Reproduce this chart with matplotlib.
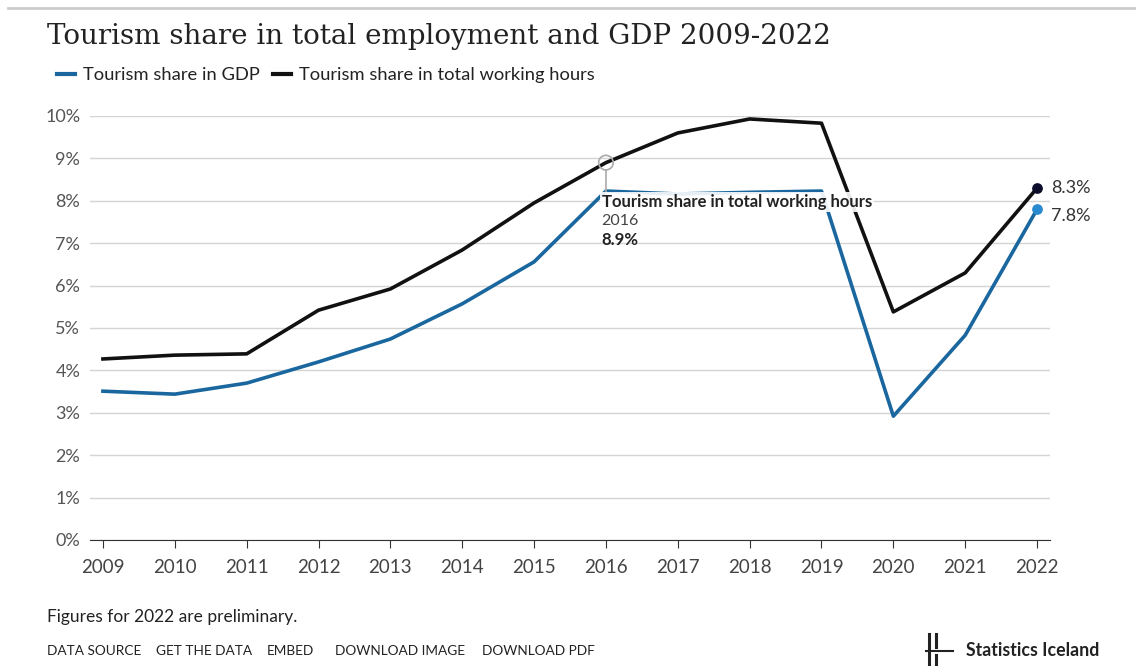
import matplotlib as mpl
import matplotlib.pyplot as plt
from matplotlib.lines import Line2D

mpl.rc('font', family=['Lato', 'DejaVu Sans'], size=11)

years = list(range(2009, 2023))
gdp_share = [3.51, 3.44, 3.70, 4.20, 4.74, 5.57, 6.56, 8.23, 8.16, 8.20, 8.23, 2.92, 4.83, 7.8]
hours_share = [4.27, 4.36, 4.39, 5.42, 5.92, 6.84, 7.95, 8.9, 9.60, 9.93, 9.83, 5.38, 6.30, 8.3]
ytick_vals = list(range(0, 11))
ytick_labels = [f"{v}%" for v in ytick_vals]

blue = '#19679e'
blue_dot = '#2a8ad0'
black = '#111111'

fig = plt.figure(figsize=(11.36, 6.66), dpi=100)
ax = fig.add_axes([90 / 1136, 1 - 540 / 666, 960 / 1136, 424 / 666])

ax.plot(years, gdp_share, color=blue, lw=2.6, clip_on=False, zorder=3)
ax.plot(years, hours_share, color=black, lw=2.6, clip_on=False, zorder=3)
ax.scatter([years[-1]], [gdp_share[-1]], s=45, color=blue_dot, zorder=5, clip_on=False)
ax.scatter([years[-1]], [hours_share[-1]], s=45, color='#0b0b2a', zorder=5, clip_on=False)
ax.annotate(f"{hours_share[-1]}%", (years[-1], hours_share[-1]), xytext=(10, 0),
            textcoords='offset points', va='center', ha='left', fontsize=13, color='#333333')
ax.annotate(f"{gdp_share[-1]}%", (years[-1], gdp_share[-1]), xytext=(10, -5),
            textcoords='offset points', va='center', ha='left', fontsize=13, color='#333333')

# hover tooltip at 2016
i16 = years.index(2016)
ax.scatter([2016], [hours_share[i16]], s=110, facecolor='none', edgecolor='#aaaaaa', lw=1.2, zorder=6)
ax.plot([2016, 2016], [hours_share[i16] - 0.17, 8.2], color='#aaaaaa', lw=1.2, zorder=6)
ax.text(2016 - 0.06, 7.98, "Tourism share in total working hours", ha='left', va='center',
        fontsize=12, fontweight='bold', color='#222222', zorder=7,
        bbox=dict(facecolor='white', edgecolor='none', pad=1.5, alpha=0.9))
ax.text(2016 - 0.06, 7.53, "2016", ha='left', va='center', fontsize=11.5, color='#444444', zorder=7)
ax.text(2016 - 0.06, 7.08, f"{hours_share[i16]}%", ha='left', va='center', fontsize=12,
        fontweight='bold', color='#222222', zorder=7)

ax.set_xlim(2008.82, 2022.18)
ax.set_ylim(0, 10)
ax.set_xticks(years)
ax.set_yticks(ytick_vals)
ax.set_yticklabels(ytick_labels)
ax.grid(axis='y', color='#d4d4d4', lw=1)
ax.set_axisbelow(True)
for s in ['top', 'right', 'left']:
    ax.spines[s].set_visible(False)
ax.spines['bottom'].set_color('#333333')
ax.tick_params(axis='x', length=6, color='#333333', labelsize=13.5, labelcolor='#444444', pad=8)
ax.tick_params(axis='y', length=0, labelsize=13, labelcolor='#555555', pad=7)

# title and legend
fig.add_artist(Line2D([8 / 1136, 1], [1 - 8 / 666] * 2, color='#cccccc', lw=2))
fig.text(47 / 1136, 1 - 37 / 666, "Tourism share in total employment and GDP 2009-2022",
         family='DejaVu Serif', fontsize=20, color='#222222', va='center', ha='left')
handles = [Line2D([], [], color=blue, lw=3), Line2D([], [], color=black, lw=3)]
fig.legend(handles, ["Tourism share in GDP", "Tourism share in total working hours"],
           loc='center left', bbox_to_anchor=(40 / 1136, 1 - 75 / 666), ncol=2, frameon=False,
           fontsize=13.2, handlelength=1.0, handletextpad=0.45, columnspacing=0.7,
           labelcolor='#222222')

# footer
fig.text(47 / 1136, 1 - 617 / 666, "Figures for 2022 are preliminary.", fontsize=12.5,
         color='#222222', va='center')
links = [("DATA SOURCE", 47), ("GET THE DATA", 156), ("EMBED", 267),
         ("DOWNLOAD IMAGE", 335), ("DOWNLOAD PDF", 482)]
for txt, xp in links:
    fig.text(xp / 1136, 1 - 651 / 666, txt, fontsize=9.8, color='#222222', va='center')
fig.text(966 / 1136, 1 - 651 / 666, "Statistics Iceland", fontsize=12.8, fontweight='bold',
         color='#222222', va='center')
# logo
fy = lambda p: 1 - p / 666
fig.add_artist(Line2D([929 / 1136] * 2, [fy(634), fy(664)], color='#222222', lw=2.2))
fig.add_artist(Line2D([936 / 1136] * 2, [fy(634), fy(647)], color='#222222', lw=2.2))
fig.add_artist(Line2D([936 / 1136] * 2, [fy(655), fy(664)], color='#222222', lw=2.2))
fig.add_artist(Line2D([926 / 1136, 953 / 1136], [fy(651)] * 2, color='#222222', lw=1.5))

fig.savefig('out.png', dpi=100)
